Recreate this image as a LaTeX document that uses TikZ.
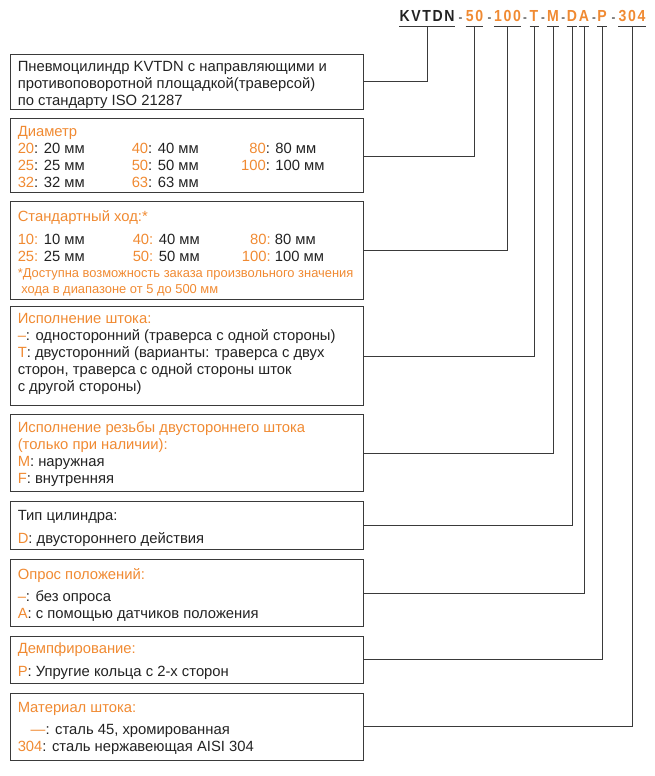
\documentclass[tikz,border=0pt]{standalone}
\usepackage{fontspec}
\setmainfont{Liberation Sans}
\newfontfamily\codefont[FakeStretch=0.88,LetterSpace=10]{Liberation Sans}
\usetikzlibrary{positioning}
\definecolor{codeorange}{HTML}{F08A32}
\definecolor{textgray}{HTML}{222222}
\definecolor{linegray}{HTML}{3A3A3A}
\newcommand{\oc}[1]{\textcolor{codeorange}{#1}}

\begin{document}
\begin{tikzpicture}[x=1pt, y=-1pt,
        box/.style={draw=linegray, line width=0.9pt, minimum width=353pt, inner sep=0pt},
        txt/.style={anchor=north west, inner sep=0pt, align=left, text=textgray,
            font=\fontsize{14.8}{17}\selectfont, execute at begin node={\rule{0pt}{12pt}}},
        note/.style={txt, text=codeorange, font=\fontsize{12.9}{16}\selectfont,
            execute at begin node={\rule{0pt}{11pt}}},
        code/.style={anchor=base, inner sep=0pt, text=codeorange, font=\codefont\fontsize{16}{18}\selectfont\bfseries},
        sep/.style={anchor=base, inner sep=0pt, text=black!70, font=\fontsize{11.5}{18}\selectfont\bfseries},
        link/.style={draw=linegray, line width=0.8pt}
    ]
        \useasboundingbox (0,0) rectangle (654,776);

        % order code
        \node[code, text=textgray] (kvtdn) at (427,22) {KVTDN};
        \node[code] (cdia) at (474.5,22) {50};
        \node[code] (cstroke) at (507.5,22) {100};
        \node[code] (crod) at (534,22) {T};
        \node[code] (cthread) at (553,22) {M};
        \node[code] (ctype) at (572,22) {D};
        \node[code] (cpos) at (584,22) {A};
        \node[code] (cdamp) at (602,22) {P};
        \node[code] (cmat) at (632,22) {304};
        \foreach \x in {460.5,489.5,525,543,563.2,594,613.5}
            \node[sep] at (\x,22) {-};

        % boxes
        \node[box, minimum height=55pt] (b1) at (186.5,81.5) {};
        \node[box, minimum height=74pt, below=9pt of b1] (b2) {};
        \node[box, minimum height=98pt, below=8pt of b2] (b3) {};
        \node[box, minimum height=99pt, below=6pt of b3] (b4) {};
        \node[box, minimum height=77pt, below=8pt of b4] (b5) {};
        \node[box, minimum height=48pt, below=9pt of b5] (b6) {};
        \node[box, minimum height=67pt, below=9pt of b6] (b7) {};
        \node[box, minimum height=47pt, below=9pt of b7] (b8) {};
        \node[box, minimum height=67pt, below=9pt of b8] (b9) {};

        % box texts
        \node[txt] (t1) at ([shift={(8pt,-8pt)}]b1.north west)
            {Пневмоцилиндр KVTDN с направляющими и\\противоповоротной площадкой(траверсой)\\по стандарту ISO 21287};
        \node[txt] (t2) at ([shift={(8pt,-8pt)}]b2.north west)
            {\oc{Диаметр}\\
             \makebox[114pt][l]{\oc{20}: 20 мм}\makebox[108pt][l]{\oc{40}: 40 мм}\makebox[26pt][r]{\oc{80}}: 80 мм\\
             \makebox[114pt][l]{\oc{25}: 25 мм}\makebox[108pt][l]{\oc{50}: 50 мм}\makebox[26pt][r]{\oc{100}}: 100 мм\\
             \makebox[114pt][l]{\oc{32}: 32 мм}\makebox[108pt][l]{\oc{63}: 63 мм}};
        \node[txt] (t3) at ([shift={(8pt,-9pt)}]b3.north west)
            {\oc{Стандартный ход:*}\\[6pt]
             \makebox[115pt][l]{\oc{10:} 10 мм}\makebox[108pt][l]{\oc{40:} 40 мм}\makebox[30pt][r]{\oc{80:}} 80 мм\\
             \makebox[115pt][l]{\oc{25:} 25 мм}\makebox[108pt][l]{\oc{50:} 50 мм}\makebox[30pt][r]{\oc{100:}} 100 мм};
        \node[note] (n3) at ([shift={(0pt,-7pt)}]t3.base west)
            {*Доступна возможность заказа произвольного значения\\\ хода в диапазоне от 5 до 500 мм};
        \node[txt] (t4) at ([shift={(8pt,-7pt)}]b4.north west)
            {\oc{Исполнение штока:}\\
             \oc{–}: односторонний (траверса с одной стороны)\\
             \oc{T}: двусторонний (варианты: траверса с двух\\
             сторон, траверса с одной стороны шток\\
             с другой стороны)};
        \node[txt] (t5) at ([shift={(8pt,-7pt)}]b5.north west)
            {\oc{Исполнение резьбы двустороннего штока}\\
             \oc{(только при наличии):}\\
             \oc{M}: наружная\\
             \oc{F}: внутренняя};
        \node[txt] (t6) at ([shift={(8pt,-9pt)}]b6.north west)
            {Тип цилиндра:\\[6pt]\oc{D}: двустороннего действия};
        \node[txt] (t7) at ([shift={(8pt,-9pt)}]b7.north west)
            {\oc{Опрос положений:}\\[5pt]\oc{–}: без опроса\\\oc{A}: с помощью датчиков положения};
        \node[txt] (t8) at ([shift={(8pt,-7pt)}]b8.north west)
            {\oc{Демпфирование:}\\[6pt]\oc{P}: Упругие кольца с 2-х сторон};
        \node[txt] (t9) at ([shift={(8pt,-9pt)}]b9.north west)
            {\oc{Материал штока:}\\[5pt]\hspace*{13pt}\oc{—}: сталь 45, хромированная\\\oc{304}: сталь нержавеющая AISI 304};

        % underlines and connectors
        \foreach \c in {kvtdn, cdia, cstroke, crod, cthread, ctype, cpos, cdamp, cmat}
            \draw[link] ([yshift=-4pt]\c.base west) -- ([yshift=-4pt]\c.base east);
        \foreach \b/\c in {b1/kvtdn, b2/cdia, b3/cstroke, b4/crod, b5/cthread, b6/ctype, b7/cpos, b8/cdamp, b9/cmat}
            \draw[link] (\b.east) -| ([yshift=-4pt]\c.base);
    \end{tikzpicture}
\end{document}
